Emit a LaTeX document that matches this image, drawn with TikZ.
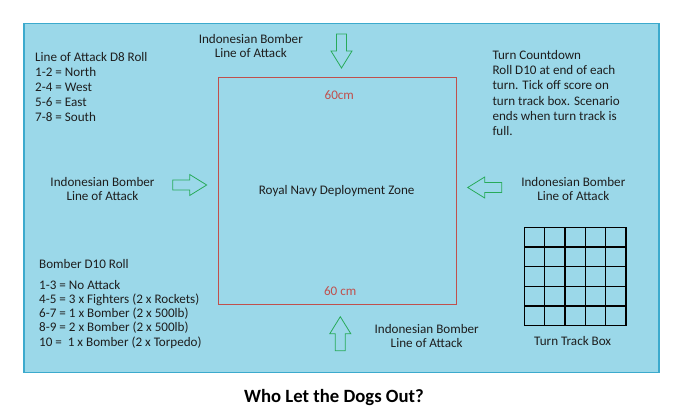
\documentclass[tikz,border=0pt]{standalone}
\usepackage{fontspec}
\setmainfont{Carlito}
\usetikzlibrary{positioning}

\definecolor{boardblue}{RGB}{155,216,233}
\definecolor{boardedge}{RGB}{60,170,205}
\definecolor{zonered}{RGB}{192,80,77}
\definecolor{loagreen}{RGB}{40,170,90}
\definecolor{txtgray}{RGB}{30,30,30}

\begin{document}
\begin{tikzpicture}[x=1pt, y=-1pt,
    every node/.style={inner sep=0pt, text=txtgray, font=\fontsize{13.1}{15.2}\selectfont},
    loa/.style={align=center, anchor=base, font=\fontsize{13.1}{14}\selectfont},
    blockarrow/.style={draw=loagreen, line width=0.8pt}]
    \useasboundingbox (0,0) rectangle (686,420);

    % Table top
    \draw[boardedge, fill=boardblue, line width=1.5pt] (24,23.5) rectangle (659,372.5);

    % Deployment zone
    \draw[zonered, line width=1pt] (218,78) rectangle (456,304);
    \node[zonered, anchor=base] (topcm) at (339.3,99.3) {60cm};
    \node[zonered, anchor=base] (botcm) at (340.2,295) {60 cm};
    \node[anchor=base] (zone) at (336.7,194.3) {Royal Navy Deployment Zone};

    % Lines of attack (base = last line)
    \node[loa] (northloa) at (250.8,57.6) {Indonesian Bomber\\Line of Attack};
    \node[loa] (westloa) at (102.5,200) {Indonesian Bomber\\Line of Attack};
    \node[loa] (eastloa) at (573.3,200.6) {Indonesian Bomber\\Line of Attack};
    \node[loa] (southloa) at (426.7,347.6) {Indonesian Bomber\\Line of Attack};

    % Green block arrows
    \foreach \x/\y/\a in {341.5/34/-90, 172.7/185/0, 501.7/187.5/180, 340.3/350.7/90} {
        \draw[blockarrow, shift={(\x,\y)}, rotate=\a]
            (0,-5) -- (17,-5) -- (17,-10.5) -- (34,0) -- (17,10.5) -- (17,5) -- (0,5) -- cycle;
    }

    % Rules
    \node[anchor=base west, align=left] (d8roll) at (35,121.8)
        {Line of Attack D8 Roll\\1-2 = North\\2-4 = West\\5-6 = East\\7-8 = South};
    \node[anchor=base west, align=left] (countdown) at (492.3,135.5)
        {Turn Countdown\\Roll D10 at end of each\\turn. Tick off score on\\turn track box. Scenario\\ends when turn track is\\full.};
    \node[anchor=base west] (d10title) at (39,268.3) {Bomber D10 Roll};
    \node[anchor=base west, align=left, font=\fontsize{13.1}{14.2}\selectfont] (d10table) at (39,346.1)
        {1-3 = No Attack\\4-5 = 3 x Fighters (2 x Rockets)\\6-7 = 1 x Bomber (2 x 500lb)\\8-9 = 2 x Bomber (2 x 500lb)\\10 = \ 1 x Bomber (2 x Torpedo)};

    % Turn track box
    \foreach \i in {0,...,5} {
        \draw[line width=1.3pt] ({524.3+20.34*\i},227.3) -- ({524.3+20.34*\i},325.7);
        \draw[line width=1.3pt] (524.3,{227.3+19.68*\i}) -- (626,{227.3+19.68*\i});
    }
    \node[anchor=base] (trackbox) at (572.7,345.3) {Turn Track Box};

    % Title
    \node[anchor=base, text=black, font=\bfseries\fontsize{18.7}{22}\selectfont] (title) at (334,402.5)
        {Who Let the Dogs Out?};
\end{tikzpicture}
\end{document}
